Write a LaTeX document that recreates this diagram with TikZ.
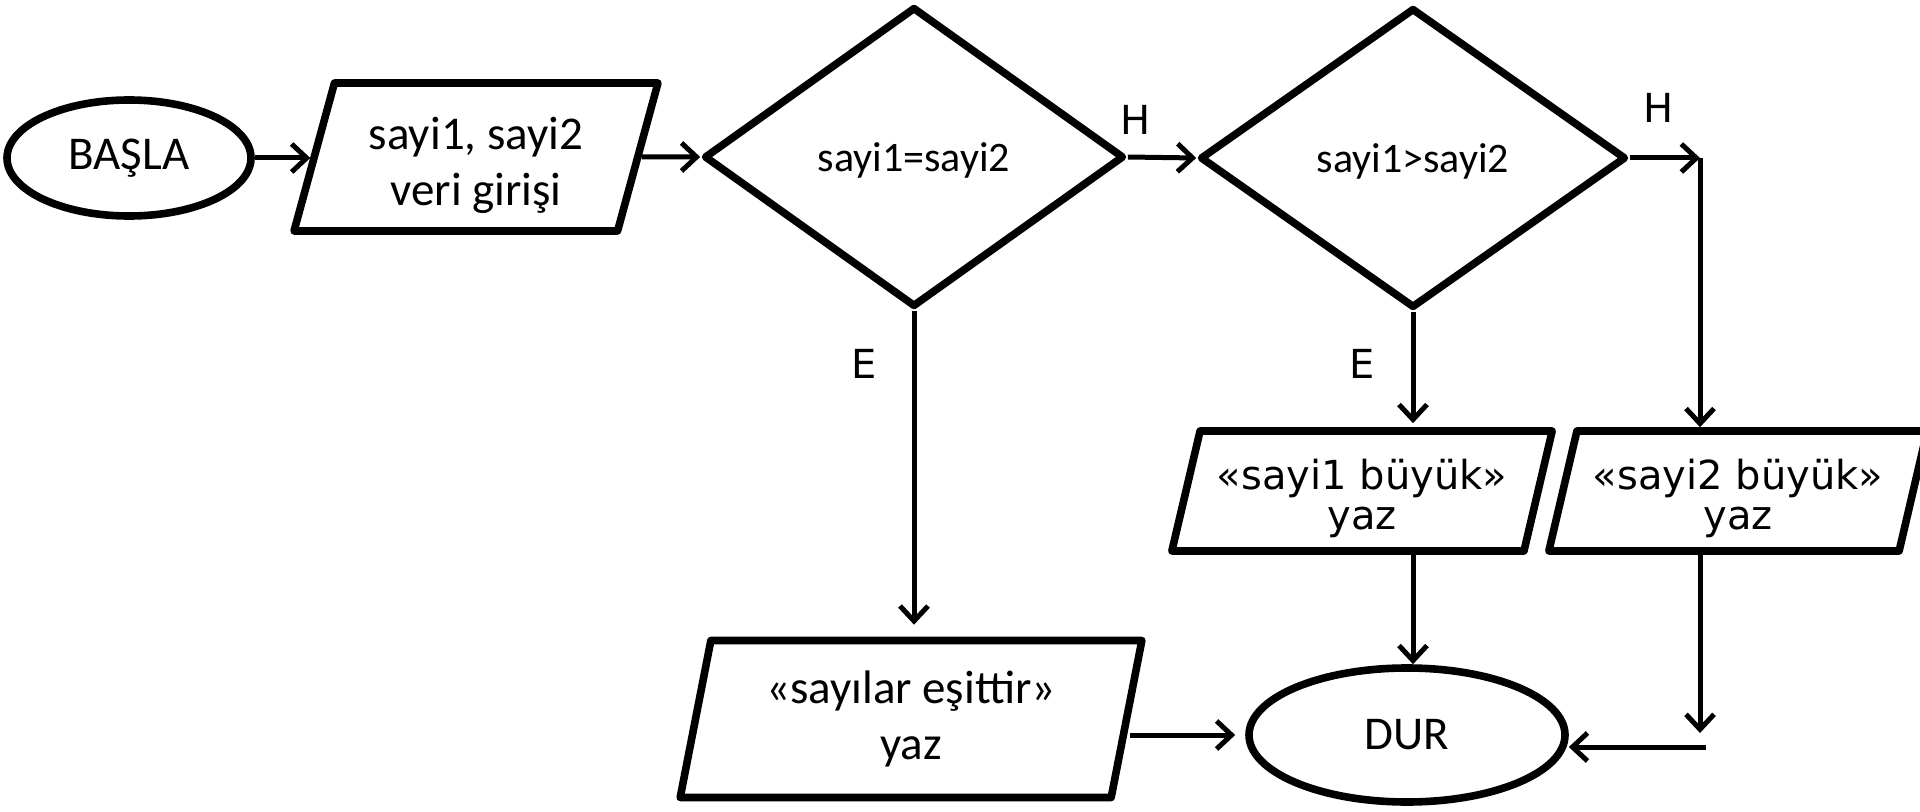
\documentclass[tikz,border=0pt]{standalone}
\usepackage{fontspec}
\setmainfont{Carlito}
\newfontfamily\dvfont{DejaVu Sans}
\usetikzlibrary{shapes.geometric,arrows.meta,calc}
\begin{document}
\begin{tikzpicture}[x=0.5pt,y=-0.5pt,
  shp/.style={draw, line width=3.8pt, line join=round, inner sep=0pt, align=center},
  term/.style={shp, ellipse},
  dec/.style={shp, diamond},
  io/.style={shp, trapezium, trapezium left angle=75, trapezium right angle=105, trapezium stretches=true},
  conn/.style={line width=2.5pt, -{Straight Barb[length=7.5pt,width=14pt]}},
  bigtxt/.style={font=\fontsize{23.5pt}{28pt}\selectfont},
  dectxt/.style={font=\fontsize{21pt}{25pt}\selectfont},
  dvtxt/.style={font=\dvfont\fontsize{20pt}{20pt}\selectfont},
  lbl/.style={font=\dvfont\fontsize{20pt}{22pt}\selectfont, inner sep=0pt}
]
\useasboundingbox (0,0) rectangle (1920,812);

% shapes
\node[term, bigtxt, minimum width=122pt, minimum height=58pt] (start) at (129,158) {BAŞLA};
\node[io, bigtxt, minimum width=182pt, minimum height=74pt] (p1) at (476,157) {\rule{0pt}{25pt}sayi1, sayi2\\veri girişi};
\node[dec, dectxt, minimum width=210pt, minimum height=150pt] (d1) at (914,157) {\rule{0pt}{18pt}sayi1=sayi2};
\node[dec, dectxt, minimum width=213pt, minimum height=150pt] (d2) at (1413,158) {\rule{0pt}{18pt}sayi1>sayi2};
\node[io, dvtxt, minimum width=190.5pt, minimum height=60pt] (p2) at (1362,491) {\rule{0pt}{23pt}«sayi1 büyük»\\yaz};
\node[io, dvtxt, minimum width=189.5pt, minimum height=60pt] (p3) at (1738,491) {\rule{0pt}{23pt}«sayi2 büyük»\\yaz};
\node[io, bigtxt, trapezium left angle=77, trapezium right angle=103, minimum width=231pt, minimum height=78.5pt] (p4) at (911,719) {«sayılar eşittir»\\yaz};
\node[term, bigtxt, minimum width=158pt, minimum height=67pt] (dur) at (1407,735) {DUR};

% labels
\node[lbl] (h1) at (1136,120) {H};
\node[lbl] (h2) at (1659,108) {H};
\node[lbl] (e1) at (864,364) {E};
\node[lbl] (e2) at (1362,364) {E};

% helper coordinates
\coordinate (c1) at (1700,158);
\coordinate (c2) at (1700,733);
\coordinate (c3) at (1706,747);

% connectors
\draw[conn] (start.east) -- (start.east -| p1.west);
\draw[conn] (p1.east) -- (d1.west);
\draw[conn] (d1.east) -- (d2.west);
\draw[conn] (d2.east) -- (c1);
\draw[conn] (c1) -- (c1 |- p3.north);
\draw[conn, shorten >=6pt] (d1.south) -- (d1.south |- p4.north);
\draw[conn, shorten >=2pt] (d2.south) -- (d2.south |- p2.north);
\draw[conn] (d2.south |- p2.south) -- (d2.south |- dur.north);
\draw[conn] (c1 |- p3.south) -- (c2);
\draw[conn] (c3) -- (c3 -| dur.east);
\draw[conn, shorten >=5pt] (p4.east |- dur.west) -- (dur.west);
\end{tikzpicture}
\end{document}
